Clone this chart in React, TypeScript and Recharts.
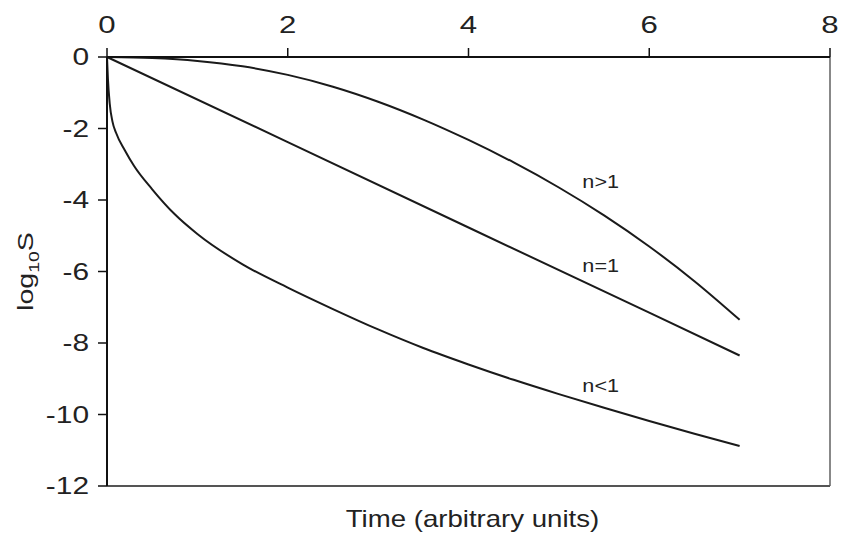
import React from "react";
import { LineChart, Line, XAxis, YAxis, ReferenceLine, ReferenceDot } from "recharts";

// time grid and log10 S values for each decay regime
const timeSteep = [0, 0.5, 1, 1.5, 2, 2.5, 3, 3.5, 4, 4.5, 5, 5.5, 6, 6.5, 7];
const logSSteep = [0, -0.03, -0.11, -0.26, -0.5, -0.83, -1.25, -1.75, -2.32, -2.95, -3.65, -4.43, -5.3, -6.27, -7.35];

const timeLinear = [0, 2, 4, 6, 7];
const logSLinear = [0, -2.38, -4.77, -7.15, -8.35];

const timeShallow = [0, 0.01, 0.03, 0.06, 0.1, 0.2, 0.3, 0.5, 0.75, 1, 1.5, 2, 2.5, 3, 3.5, 4, 4.5, 5, 5.5, 6, 6.5, 7];
const logSShallow = [0, -0.6, -1.3, -1.8, -2.12, -2.62, -3.05, -3.7, -4.4, -4.95, -5.8, -6.45, -7.05, -7.62, -8.14, -8.6, -9.03, -9.43, -9.81, -10.18, -10.54, -10.88];

const xTicks = [0, 2, 4, 6, 8];
const yTicks = [0, -2, -4, -6, -8, -10, -12];

const curveLabels = [
  { text: "n>1", t: 5.26, logS: -3.48 },
  { text: "n=1", t: 5.26, logS: -5.83 },
  { text: "n<1", t: 5.26, logS: -9.19 },
];

const toPoints = (ts: number[], vs: number[]) => ts.map((t, i) => ({ t, v: vs[i] }));

const FONT = "'Liberation Sans', Arial, Helvetica, sans-serif";
const INK = "#222";
const WIDE = 1.3;

const TopTick = ({ x, y, payload }: any) => (
  <g transform={`translate(${x},${y}) scale(${WIDE},1)`}>
    <text x={0} y={0} textAnchor="middle" fontFamily={FONT} fontSize={24} fill={INK}>
      {payload.value}
    </text>
  </g>
);

const LeftTick = ({ x, y, payload }: any) => (
  <g transform={`translate(${x},${y}) scale(${WIDE},1)`}>
    <text x={0} y={0} dy="0.36em" textAnchor="end" fontFamily={FONT} fontSize={23} fill={INK}>
      {payload.value}
    </text>
  </g>
);

const YTitle = ({ viewBox }: any) => {
  const cx = viewBox.x - 22;
  const cy = viewBox.y + viewBox.height / 2;
  return (
    <g transform={`translate(${cx},${cy}) rotate(-90) scale(${WIDE},1)`}>
      <text x={0} y={0} dy="0.36em" textAnchor="middle" fontFamily={FONT} fontSize={22} fill={INK}>
        log
        <tspan fontSize={15} dy={6}>10</tspan>
        <tspan dy={-6}>S</tspan>
      </text>
    </g>
  );
};

const XTitle = ({ viewBox }: any) => {
  const cx = viewBox.x + viewBox.width / 2 + 4;
  const by = viewBox.y + 41;
  return (
    <g transform={`translate(${cx},${by}) scale(1.2,1)`}>
      <text x={0} y={0} textAnchor="middle" fontFamily={FONT} fontSize={23} fill={INK}>
        Time (arbitrary units)
      </text>
    </g>
  );
};

const CurveTag = (text: string) => ({ viewBox }: any) => {
  const x = viewBox.x + viewBox.width / 2;
  const y = viewBox.y + viewBox.height / 2;
  return (
    <g transform={`translate(${x},${y}) scale(1.2,1)`}>
      <text x={0} y={0} dy="0.36em" textAnchor="start" fontFamily={FONT} fontSize={18} fill={INK}>
        {text}
      </text>
    </g>
  );
};

export default function App() {
  return (
    <div style={{ position: "absolute", left: 0, top: 0, width: 851, height: 537, background: "#fff" }}>
      <LineChart width={851} height={537} margin={{ top: 17, right: 21, bottom: 0, left: 47 }}>
        <XAxis
          xAxisId="top"
          orientation="top"
          type="number"
          dataKey="t"
          domain={[0, 8]}
          ticks={xTicks}
          height={40}
          tickSize={9}
          tickMargin={15}
          tick={TopTick}
          axisLine={{ stroke: "#111", strokeWidth: 2 }}
          tickLine={{ stroke: "#111", strokeWidth: 1.5 }}
          allowDuplicatedCategory={false}
        />
        <XAxis
          xAxisId="bottom"
          orientation="bottom"
          type="number"
          dataKey="t"
          domain={[0, 8]}
          height={51}
          tick={false}
          tickLine={false}
          axisLine={{ stroke: "#555", strokeWidth: 2 }}
          label={{ content: XTitle }}
        />
        <YAxis
          type="number"
          dataKey="v"
          domain={[-12, 0]}
          ticks={yTicks}
          width={60}
          tickSize={9}
          tickMargin={9}
          tick={LeftTick}
          axisLine={{ stroke: "#111", strokeWidth: 2 }}
          tickLine={{ stroke: "#111", strokeWidth: 1.5 }}
          label={{ content: YTitle }}
        />
        <ReferenceLine xAxisId="top" x={8} stroke="#888" strokeWidth={2} />
        <Line
          xAxisId="top"
          data={toPoints(timeSteep, logSSteep)}
          dataKey="v"
          type="monotone"
          stroke="#1a1a1a"
          strokeWidth={2}
          dot={false}
          isAnimationActive={false}
        />
        <Line
          xAxisId="top"
          data={toPoints(timeLinear, logSLinear)}
          dataKey="v"
          type="linear"
          stroke="#1a1a1a"
          strokeWidth={2}
          dot={false}
          isAnimationActive={false}
        />
        <Line
          xAxisId="top"
          data={toPoints(timeShallow, logSShallow)}
          dataKey="v"
          type="monotone"
          stroke="#1a1a1a"
          strokeWidth={2}
          dot={false}
          isAnimationActive={false}
        />
        {curveLabels.map((c) => (
          <ReferenceDot
            key={c.text}
            xAxisId="top"
            x={c.t}
            y={c.logS}
            r={1}
            fill="none"
            stroke="none"
            label={{ content: CurveTag(c.text) }}
          />
        ))}
      </LineChart>
    </div>
  );
}
